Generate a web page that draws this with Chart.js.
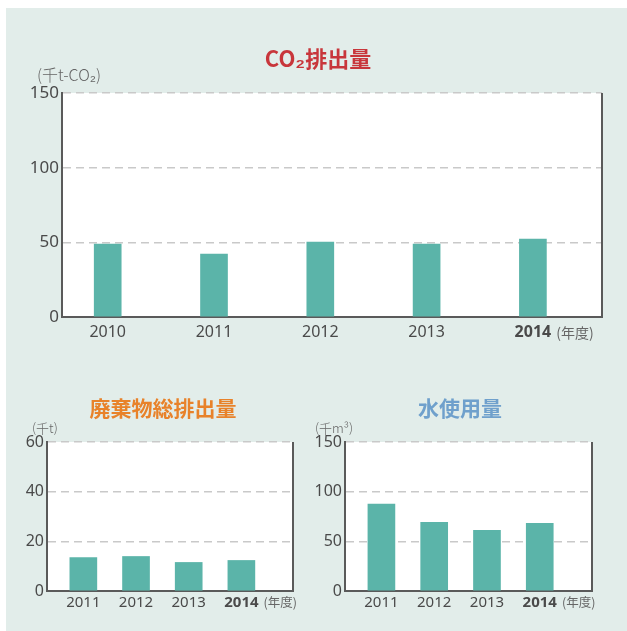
<!DOCTYPE html>
<html lang="ja">
<head>
<meta charset="utf-8">
<script src="https://cdn.jsdelivr.net/npm/chart.js@4"></script>
<style>
  body { margin: 0; background: #fff; width: 627px; height: 631px; overflow: hidden; position: relative; }
  #panel { position: absolute; left: 6px; top: 8px; width: 621px; height: 623px; background: #e2edea; }
  canvas { position: absolute; }
  .title { position: absolute; font-family: 'Noto Sans CJK JP', sans-serif; font-weight: bold; white-space: nowrap; line-height: 1; transform: translate(-50%, -50%); }
  .unit { position: absolute; font-family: 'Noto Sans CJK JP', sans-serif; font-weight: 300; color: #666; white-space: nowrap; line-height: 1; transform: translateY(-50%); }
</style>
</head>
<body>
<div id="panel"></div>
<canvas id="co2Chart" width="627" height="290" style="left:0;top:70px"></canvas>
<canvas id="wasteChart" width="313" height="211" style="left:0;top:420px"></canvas>
<canvas id="waterChart" width="314" height="211" style="left:313px;top:420px"></canvas>

<div class="title" style="left:318px;top:57px;font-size:22px;color:#c8363b">CO₂排出量</div>
<div class="unit" style="left:37px;top:74px;font-size:16px">(千t-CO₂)</div>
<div class="title" style="left:163px;top:407px;font-size:21px;color:#e8822a">廃棄物総排出量</div>
<div class="unit" style="left:32px;top:427px;font-size:13px">(千t)</div>
<div class="title" style="left:460px;top:407px;font-size:21px;color:#6fa0cc">水使用量</div>
<div class="unit" style="left:315px;top:427px;font-size:13px">(千m³)</div>

<script>
// data
var co2Years = [2010, 2011, 2012, 2013, 2014];
var co2Values = [48.9, 42.1, 50.2, 48.9, 52.2];
var co2Ticks = [0, 50, 100, 150];

var subYears = [2011, 2012, 2013, 2014];
var wasteValues = [13.5, 13.9, 11.5, 12.3];
var wasteTicks = [0, 20, 40, 60];
var waterValues = [87.4, 69.2, 61.1, 68.2];
var waterTicks = [0, 50, 100, 150];

var boldYear = 2014;
var numFont = "'Noto Sans', 'DejaVu Sans', sans-serif";
var cjkFont = "'Noto Sans CJK JP', sans-serif";
var axisColor = '#5a5a5a';
var barColor = '#5bb4a9';

var framePlugin = {
  id: 'frame',
  beforeDraw: function(chart) {
    var a = chart.chartArea, ctx = chart.ctx;
    ctx.save();
    ctx.fillStyle = '#fff';
    ctx.fillRect(a.left, a.top, a.right - a.left, a.bottom - a.top);
    ctx.restore();
  },
  afterDraw: function(chart) {
    var a = chart.chartArea, ctx = chart.ctx;
    var o = chart.options.plugins.frame;
    ctx.save();
    ctx.strokeStyle = axisColor;
    ctx.lineWidth = 2;
    ctx.beginPath();
    ctx.moveTo(a.right, a.top);
    ctx.lineTo(a.right, a.bottom + 1);
    ctx.stroke();

    // (年度) after the last year label
    var xs = chart.scales.x;
    var last = xs.ticks[xs.ticks.length - 1];
    var px = xs.getPixelForValue(last.value);
    ctx.font = 'bold ' + o.tickSize + 'px ' + numFont;
    var w = ctx.measureText(String(last.value)).width;
    ctx.font = o.unitSize + 'px ' + cjkFont;
    ctx.fillStyle = '#666';
    ctx.textBaseline = 'middle';
    ctx.textAlign = 'left';
    ctx.fillText('(年度)', px + w / 2 + 5, xs.top + o.tickPad + o.tickSize * 0.58);
    ctx.restore();
  }
};

function makeChart(id, years, values, yTicks, o) {
  var points = years.map(function(y, i) { return { x: y, y: values[i] }; });
  return new Chart(document.getElementById(id), {
    type: 'bar',
    data: {
      datasets: [{
        data: points,
        backgroundColor: barColor,
        barThickness: 27
      }]
    },
    options: {
      responsive: false,
      animation: false,
      layout: { padding: { left: 0, top: o.top, right: o.right, bottom: 0 } },
      plugins: {
        legend: { display: false },
        tooltip: { enabled: false },
        frame: { tickSize: o.tickSize, tickPad: o.tickPad, unitSize: o.unitSize }
      },
      scales: {
        x: {
          type: 'linear',
          offset: false,
          min: o.xMin,
          max: o.xMax,
          grid: { display: false, drawTicks: false },
          border: { display: true, color: axisColor, width: 2 },
          afterBuildTicks: function(scale) {
            scale.ticks = years.map(function(v) { return { value: v }; });
          },
          afterFit: function(scale) { scale.height = o.xHeight; },
          ticks: {
            padding: o.tickPad,
            color: '#4a4a4a',
            maxRotation: 0,
            autoSkip: false,
            callback: function(v) { return String(v); },
            font: function(c) {
              var bold = c.tick && c.tick.value === boldYear;
              return { family: numFont, size: o.tickSize, weight: bold ? 'bold' : 'normal' };
            }
          }
        },
        y: {
          min: 0,
          max: yTicks[yTicks.length - 1],
          afterBuildTicks: function(scale) {
            scale.ticks = yTicks.map(function(v) { return { value: v }; });
          },
          afterFit: function(scale) { scale.width = o.yWidth; },
          grid: {
            drawTicks: false,
            lineWidth: 1.5,
            color: function(c) { return c.tick && c.tick.value === 0 ? 'rgba(0,0,0,0)' : '#c9c9c9'; }
          },
          border: { display: true, color: axisColor, width: 2, dash: [8, 5] },
          ticks: {
            padding: 3,
            color: '#4a4a4a',
            font: { family: numFont, size: o.tickSize + 1 }
          }
        }
      }
    },
    plugins: [framePlugin]
  });
}

makeChart('co2Chart', co2Years, co2Values, co2Ticks, {
  top: 23, right: 25, yWidth: 62, xHeight: 43,
  xMin: 2009.57, xMax: 2014.65, tickSize: 16, tickPad: 6, unitSize: 14
});
makeChart('wasteChart', subYears, wasteValues, wasteTicks, {
  top: 22, right: 20, yWidth: 47, xHeight: 40,
  xMin: 2010.31, xMax: 2014.98, tickSize: 15, tickPad: 3, unitSize: 12.5
});
makeChart('waterChart', subYears, waterValues, waterTicks, {
  top: 22, right: 35, yWidth: 32, xHeight: 40,
  xMin: 2010.31, xMax: 2014.99, tickSize: 15, tickPad: 3, unitSize: 12.5
});
</script>
</body>
</html>
